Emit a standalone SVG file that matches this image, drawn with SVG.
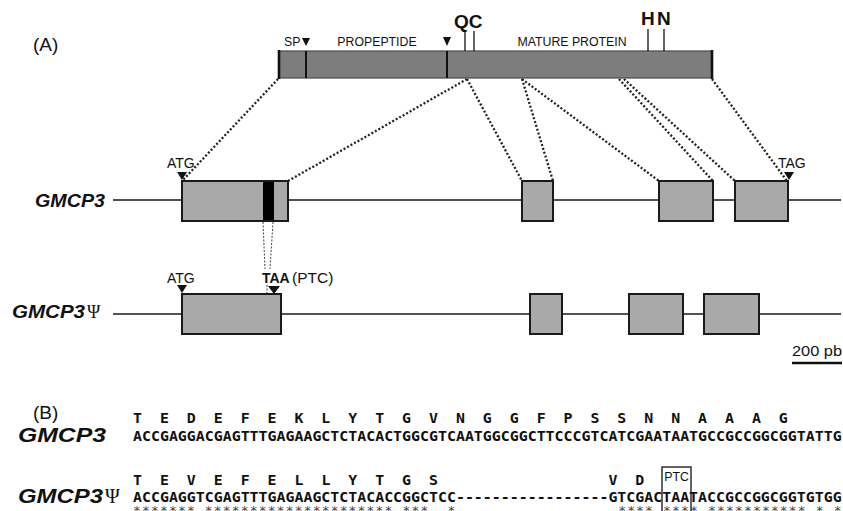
<svg xmlns="http://www.w3.org/2000/svg" width="843" height="511" viewBox="0 0 843 511">
<style>
text{font-family:"Liberation Sans",Arial,sans-serif;fill:#111}
.lbl{font-size:14px}
.small{font-size:12.3px}
.gene{font-size:18px;font-weight:bold;font-style:italic}
.geneB{font-size:20px;font-weight:bold;font-style:italic}
.psi{font-family:"Liberation Serif","DejaVu Serif",serif;font-style:normal;font-weight:normal}
.exon{fill:#a9a9a9;stroke:#1a1a1a;stroke-width:2}
.line{stroke:#1a1a1a;stroke-width:1.6}
.tick{stroke:#111;stroke-width:1.3}
.dot{fill:none;stroke:#222;stroke-width:2.3;stroke-dasharray:2 2}
.thin{fill:none;stroke:#444;stroke-width:1;stroke-dasharray:2 1.5}
.seq{font-family:"DejaVu Sans Mono",monospace;font-size:14.9px;font-weight:bold;white-space:pre}
.ast{font-family:"DejaVu Sans Mono",monospace;font-size:13px;white-space:pre;fill:#444}
.tri{fill:#111}
</style>

<text x="33" y="51" style="font-size:19px">(A)</text>
<text x="33" y="419" style="font-size:19px">(B)</text>

<g id="connectors">
  <line class="dot" x1="278" y1="79" x2="183" y2="180"/>
  <line class="dot" x1="467" y1="79" x2="288" y2="181"/>
  <line class="dot" x1="467" y1="79" x2="522" y2="181"/>
  <line class="dot" x1="522" y1="79" x2="553" y2="181"/>
  <line class="dot" x1="522" y1="79" x2="659" y2="181"/>
  <line class="dot" x1="619" y1="79" x2="713" y2="181"/>
  <line class="dot" x1="624" y1="79" x2="735" y2="181"/>
  <line class="dot" x1="712" y1="79" x2="787" y2="181"/>
  <line class="thin" x1="263" y1="222" x2="265" y2="269"/>
  <line class="thin" x1="273" y1="222" x2="270" y2="269"/>
  <line class="thin" x1="267" y1="285" x2="267" y2="293"/>
</g>

<g id="protein">
  <rect x="279" y="51" width="433" height="27" fill="#7d7d7d" stroke="#4a4a4a" stroke-width="1.2"/>
  <line x1="279" y1="50" x2="279" y2="79" stroke="#111" stroke-width="2.6"/>
  <line x1="712" y1="50" x2="712" y2="79" stroke="#111" stroke-width="2.6"/>
  <line x1="306" y1="51" x2="306" y2="78" stroke="#111" stroke-width="2"/>
  <line x1="447" y1="51" x2="447" y2="78" stroke="#111" stroke-width="2"/>
  <polygon class="tri" points="302,38 310,38 306,46"/>
  <polygon class="tri" points="443,37 451,37 447,46"/>
  <text x="284" y="46" class="small">SP</text>
  <text x="377" y="46" class="small" text-anchor="middle">PROPEPTIDE</text>
  <text x="572" y="46" class="small" text-anchor="middle">MATURE PROTEIN</text>
  <line class="tick" x1="465" y1="31" x2="465" y2="51"/>
  <line class="tick" x1="474" y1="31" x2="474" y2="51"/>
  <line class="tick" x1="648" y1="29" x2="648" y2="51"/>
  <line class="tick" x1="664" y1="29" x2="664" y2="51"/>
  <text x="454" y="28" style="font-size:19px;font-weight:bold">QC</text>
  <text x="641" y="25" style="font-size:19px;font-weight:bold">H</text>
  <text x="657" y="25" style="font-size:19px;font-weight:bold">N</text>
</g>

<g id="gmcp3">
  <text x="35" y="207" class="gene" textLength="70" lengthAdjust="spacingAndGlyphs">GMCP3</text>
  <line class="line" x1="113" y1="200" x2="841" y2="200"/>
  <rect class="exon" x="182" y="181" width="106" height="40"/>
  <rect x="263" y="182" width="11" height="38" fill="#000"/>
  <rect class="exon" x="522" y="181" width="31" height="40"/>
  <rect class="exon" x="659" y="181" width="54" height="40"/>
  <rect class="exon" x="735" y="181" width="53" height="40"/>
  <text x="167" y="168" class="lbl">ATG</text>
  <polygon class="tri" points="177,172 187,172 182,180"/>
  <text x="778" y="168" class="lbl">TAG</text>
  <polygon class="tri" points="784,172 794,172 789,180"/>
</g>

<g id="gmcp3psi">
  <text x="12" y="318" class="gene"><tspan textLength="73" lengthAdjust="spacingAndGlyphs">GMCP3</tspan><tspan class="psi" dx="2">Ψ</tspan></text>
  <line class="line" x1="113" y1="314" x2="841" y2="314"/>
  <rect class="exon" x="182" y="294" width="99" height="40"/>
  <rect class="exon" x="530" y="294" width="32" height="40"/>
  <rect class="exon" x="629" y="294" width="54" height="40"/>
  <rect class="exon" x="704" y="294" width="55" height="40"/>
  <text x="167" y="283" class="lbl">ATG</text>
  <polygon class="tri" points="177,285 187,285 182,293"/>
  <text x="262" y="283" class="lbl" style="font-weight:bold">TAA</text>
  <text x="292" y="283" style="font-size:15.5px">(PTC)</text>
  <polygon class="tri" points="268,286 280,286 274,294"/>
</g>

<g id="scalebar">
  <text x="792" y="356" style="font-size:15px" textLength="50" lengthAdjust="spacingAndGlyphs">200 pb</text>
  <line x1="792" y1="363" x2="842" y2="363" stroke="#111" stroke-width="2.5"/>
</g>

<g id="alignment">
  <text x="18" y="442" class="geneB" textLength="88" lengthAdjust="spacingAndGlyphs">GMCP3</text>
  <text x="18" y="503" class="geneB"><tspan textLength="85" lengthAdjust="spacingAndGlyphs">GMCP3</tspan><tspan class="psi" dx="2">Ψ</tspan></text>
  <text x="133" y="423" class="seq" xml:space="preserve" textLength="654.8" lengthAdjust="spacing">T  E  D  E  F  E  K  L  Y  T  G  V  N  G  G  F  P  S  S  N  N  A  A  A  G</text>
  <text x="133" y="441" class="seq" textLength="708.6" lengthAdjust="spacing">ACCGAGGACGAGTTTGAGAAGCTCTACACTGGCGTCAATGGCGGCTTCCCGTCATCGAATAATGCCGCCGGCGGTATTG</text>
  <text x="133" y="485" class="seq" xml:space="preserve" textLength="305" lengthAdjust="spacing">T  E  V  E  F  E  L  L  Y  T  G  S</text>
  <text x="608.4" y="485" class="seq" xml:space="preserve" textLength="35.9" lengthAdjust="spacing">V  D</text>
  <text x="133" y="502" class="seq" textLength="708.6" lengthAdjust="spacing">ACCGAGGTCGAGTTTGAGAAGCTCTACACCGGCTCC-----------------GTCGACTAATACCGCCGGCGGTGTGG</text>
  <text x="133" y="515" class="ast" xml:space="preserve" textLength="708.6" lengthAdjust="spacing">******* ********************* ***  *                  **** **** *********** * *</text>
  <rect x="662" y="467" width="29" height="46" fill="none" stroke="#111" stroke-width="1.3"/>
  <text x="676.5" y="481" class="small" text-anchor="middle">PTC</text>
</g>
</svg>
